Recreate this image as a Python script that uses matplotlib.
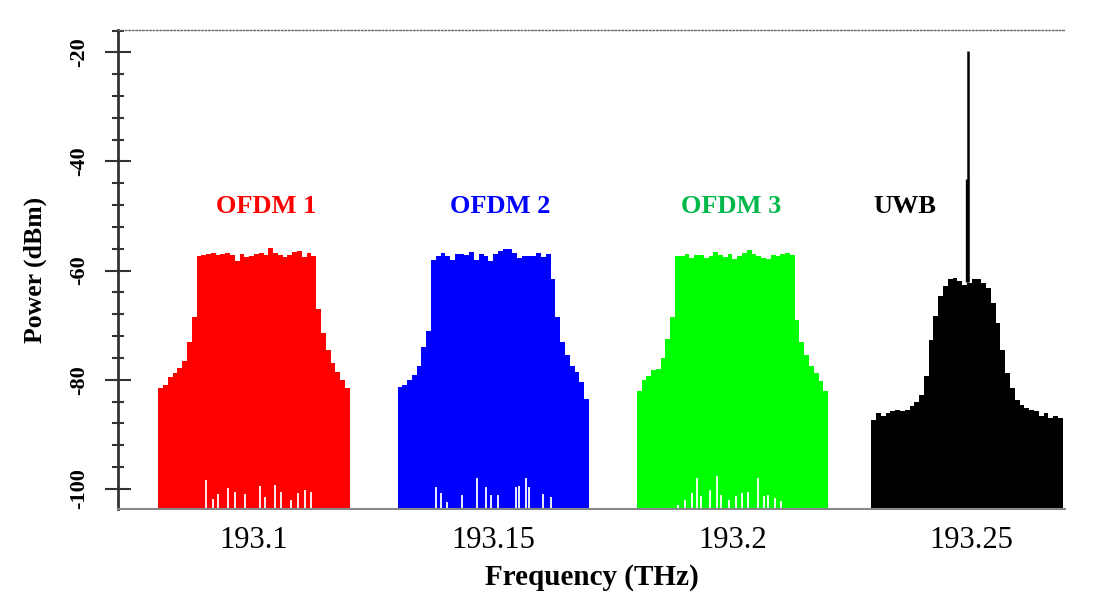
import matplotlib
matplotlib.use("Agg")
import matplotlib.pyplot as plt
from matplotlib.ticker import MultipleLocator

plt.rcParams['font.family'] = ['Liberation Serif', 'DejaVu Serif']
plt.rcParams['axes.unicode_minus'] = False

# ---------------- data ----------------
channel_names = ["OFDM 1", "OFDM 2", "OFDM 3", "UWB"]
channel_centers = [193.1, 193.15, 193.2, 193.249]   # THz

# bin edges relative to each channel centre (THz)
offset_edges = [-0.020, -0.019, -0.018, -0.017, -0.016, -0.015, -0.014, -0.013,
                -0.012, -0.011, -0.010, -0.009, -0.008, -0.007, -0.006, -0.005,
                -0.004, -0.003, -0.002, -0.001, 0.000, 0.001, 0.002, 0.003,
                0.004, 0.005, 0.006, 0.007, 0.008, 0.009, 0.010, 0.011,
                0.012, 0.013, 0.014, 0.015, 0.016, 0.017, 0.018, 0.019, 0.020]

power_ofdm1 = [-81.5, -81.0, -79.5, -78.8, -77.8, -76.5, -73.0, -68.5,
               -57.4, -57.1, -57.0, -56.8, -57.1, -57.0, -56.7, -57.2, -58.2,
               -56.9, -57.5, -57.4, -56.9, -56.8, -57.1, -55.9, -56.7, -57.2,
               -57.6, -57.1, -56.6, -56.5, -57.6, -56.8, -57.3,
               -67.0, -71.5, -74.5, -77.0, -78.5, -80.0, -81.5]
power_ofdm2 = [-81.3, -80.9, -80.0, -79.2, -77.5, -74.0, -71.0, -58.0,
               -57.4, -56.8, -57.3, -58.0, -56.9, -56.9, -57.2, -56.6, -58.0,
               -57.0, -57.4, -58.2, -56.9, -56.5, -56.1, -56.0, -56.8, -57.7,
               -57.3, -57.4, -57.3, -56.8, -57.5, -56.9,
               -61.5, -68.5, -73.0, -75.5, -77.5, -78.5, -80.5, -83.5]
power_ofdm3 = [-82.0, -80.0, -79.3, -78.3, -78.0, -76.0, -72.5, -68.5,
               -57.4, -57.3, -57.0, -57.7, -57.1, -57.2, -57.7, -57.4, -56.6,
               -57.2, -57.5, -57.0, -57.9, -57.3, -56.8, -56.2, -57.0, -57.4,
               -57.7, -57.9, -57.1, -57.3, -56.9, -56.8, -57.1,
               -69.0, -73.0, -75.5, -77.5, -78.7, -80.3, -82.0]
power_uwb = [-87.3, -86.1, -86.7, -86.1, -85.8, -85.5, -85.8, -85.5, -84.9,
             -84.0, -82.8, -79.4, -72.7, -68.4, -64.7, -62.9, -61.6, -61.3,
             -61.9, -62.6, -62.3, -61.6, -61.5, -62.3, -63.2, -65.9, -69.6,
             -74.5, -78.8, -81.5, -83.7, -84.6, -85.2, -85.5, -85.8, -86.7,
             -86.1, -87.0, -86.7, -87.0]

# optical carrier lines of the UWB signal (THz, dBm)
uwb_carrier_freq = [193.2490, 193.2493]
uwb_carrier_peak = [-43.3, -19.8]

# upper edge of the noise floor dips (lower envelope) inside each OFDM band
dip_offsets_1 = [-0.0100, -0.0085, -0.0075, -0.0054, -0.0040, -0.0019, 0.0012,
                 0.0023, 0.0044, 0.0056, 0.0077, 0.0092, 0.0106, 0.0119]
dip_levels_1 = [-98.3, -101.8, -101.0, -99.8, -100.5, -101.0, -99.5,
                -101.5, -99.3, -100.5, -102.0, -100.8, -100.2, -100.5]
dip_offsets_2 = [-0.0120, -0.0109, -0.0097, -0.0066, -0.0034, -0.0016, -0.0005,
                 0.0011, 0.0047, 0.0053, 0.0068, 0.0074, 0.0105, 0.0120]
dip_levels_2 = [-99.6, -100.8, -102.4, -101.1, -98.1, -99.6, -101.2,
                -101.2, -99.6, -99.4, -98.0, -99.6, -101.0, -101.5]
dip_offsets_3 = [-0.0113, -0.0100, -0.0085, -0.0075, -0.0065, -0.0048, -0.0033,
                 -0.0023, -0.0008, 0.0008, 0.0019, 0.0033, 0.0054, 0.0065,
                 0.0075, 0.0088, 0.0102]
dip_levels_3 = [-102.9, -102.0, -100.8, -98.0, -101.4, -100.2, -97.7,
                -101.1, -102.0, -101.4, -100.8, -100.5, -98.0, -101.4,
                -101.1, -101.7, -102.3]

x_ticks = [193.1, 193.15, 193.2, 193.25]
x_tick_labels = ["193.1", "193.15", "193.2", "193.25"]
y_ticks = [-100, -80, -60, -40, -20]
y_tick_labels = ["-100", "-80", "-60", "-40", "-20"]

label_level = -48.3
label_offsets = [0.0026, 0.0014, -0.0002, -0.0130]

# ---------------- style ----------------
fill_colors = ["#ff0000", "#0000ff", "#00ff00", "#000000"]
text_colors = ["#ff0000", "#0000ff", "#00b84a", "#000000"]
floor_level = -110

fig = plt.figure(figsize=(10.98, 5.94), dpi=100)
ax = fig.add_axes([0.1075, 0.1431, 0.8625, 0.8064])

powers = [power_ofdm1, power_ofdm2, power_ofdm3, power_uwb]
for c, p, col in zip(channel_centers, powers, fill_colors):
    edges = [c + o for o in offset_edges]
    ax.stairs(p, edges, baseline=floor_level, fill=True, color=col,
              linewidth=0)

dips = [(dip_offsets_1, dip_levels_1), (dip_offsets_2, dip_levels_2),
        (dip_offsets_3, dip_levels_3)]
for c, (offs, lev) in zip(channel_centers[:3], dips):
    ax.vlines([c + o for o in offs], floor_level, lev, color="white",
              linewidth=1.3)

ax.vlines(uwb_carrier_freq[0], -62.0, uwb_carrier_peak[0], color="black",
          linewidth=2.4)
ax.vlines(uwb_carrier_freq[1], -62.0, uwb_carrier_peak[1], color="black",
          linewidth=1.8)

for c, name, off, tc in zip(channel_centers, channel_names, label_offsets,
                            text_colors):
    ax.text(c + off, label_level, name, color=tc, fontsize=19,
            fontweight="bold", ha="center", va="center")

ax.set_xlim(193.0716, 193.2695)
ax.set_ylim(-103.7, -15.9)

ax.set_xticks(x_ticks, x_tick_labels, fontsize=22)
ax.set_yticks(y_ticks, y_tick_labels, rotation=90, va="center", fontsize=16,
              fontweight="bold")
ax.yaxis.set_minor_locator(MultipleLocator(4))

ax.tick_params(axis="x", length=0, pad=12, colors="black")
ax.tick_params(axis="y", which="major", direction="inout", length=19,
               width=1.5, color="#333333", pad=11)
ax.tick_params(axis="y", which="minor", direction="inout", length=9,
               width=1.5, color="#333333")

ax.spines["right"].set_visible(False)
ax.spines["top"].set_color("#666666")
ax.spines["top"].set_linestyle((0, (1, 1.5)))
ax.spines["top"].set_linewidth(1.0)
ax.spines["left"].set_color("#333333")
ax.spines["left"].set_linewidth(2.0)
ax.spines["bottom"].set_color("#888888")
ax.spines["bottom"].set_linewidth(1.5)

ax.set_xlabel("Frequency (THz)", fontsize=21, fontweight="bold", labelpad=7)
ax.set_ylabel("Power (dBm)", fontsize=18.5, fontweight="bold", labelpad=16)

fig.savefig("out.png", dpi=100)
